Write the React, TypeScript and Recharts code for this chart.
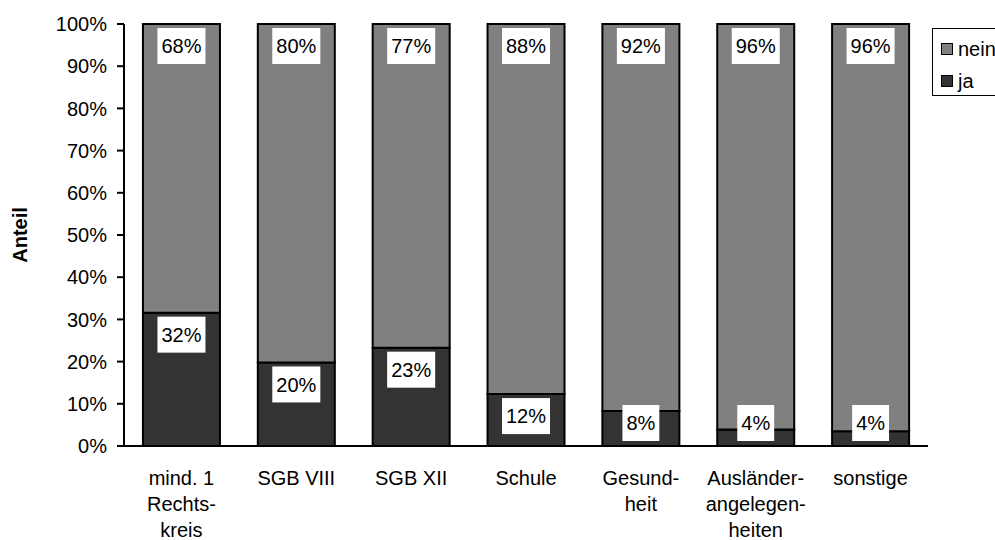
import React from 'react';
import { BarChart, Bar, XAxis, YAxis, Legend, LabelList } from 'recharts';

// categories and shares (in %)
const categories = [
  'mind. 1\nRechts-\nkreis',
  'SGB VIII',
  'SGB XII',
  'Schule',
  'Gesund-\nheit',
  'Ausländer-\nangelegen-\nheiten',
  'sonstige',
];
const jaValues = [31.6, 19.8, 23.3, 12.3, 8.3, 3.9, 3.5];
const neinValues = [68.4, 80.2, 76.7, 87.7, 91.7, 96.1, 96.5];
const jaLabels = ['32%', '20%', '23%', '12%', '8%', '4%', '4%'];
const neinLabels = ['68%', '80%', '77%', '88%', '92%', '96%', '96%'];
const yTicks = [0, 10, 20, 30, 40, 50, 60, 70, 80, 90, 100];

const data = categories.map((name, i) => ({ name, ja: jaValues[i], nein: neinValues[i] }));

const FONT = 'Arial, "Liberation Sans", sans-serif';
const FS = 20;

// rough Arial widths: digits 0.556em, % 0.889em
const textWidth = (s: string) =>
  s.split('').reduce((w, c) => w + (c === '%' ? 0.889 : 0.556), 0) * FS;

// white label box near the top of a segment, kept inside the bar for small ones
const makeLabel = (labels: string[], keepInside: boolean) => (props: any) => {
  const vb = props.viewBox || props;
  const { x, y, width, height } = vb;
  const text = labels[props.index];
  if (text == null) return null;
  const w = textWidth(text) + 8;
  const h = 36;
  let top = y + 4;
  if (keepInside) top = Math.min(top, y + height - h - 5);
  const cx = x + width / 2;
  return (
    <g>
      <rect x={cx - w / 2} y={top} width={w} height={h} fill="#fff" />
      <text x={cx} y={top + h / 2} dy="0.36em" textAnchor="middle" fontSize={FS} fontFamily={FONT} fill="#000">
        {text}
      </text>
    </g>
  );
};

const CategoryTick = (props: any) => {
  const { x, y, payload } = props;
  const lines = String(payload.value).split('\n');
  return (
    <text x={x} y={y + 39} textAnchor="middle" fontSize={FS} fontFamily={FONT} fill="#000">
      {lines.map((l, i) => (
        <tspan key={i} x={x} dy={i === 0 ? 0 : 26}>
          {l}
        </tspan>
      ))}
    </text>
  );
};

const renderLegend = (props: any) => {
  const items = [...(props.payload || [])].reverse();
  return (
    <div
      style={{
        border: '1px solid #000',
        background: '#fff',
        height: 68,
        boxSizing: 'border-box',
        padding: '4px 0 0 8px',
        fontFamily: FONT,
        fontSize: FS,
        color: '#000',
      }}
    >
      {items.map((it: any) => (
        <div key={it.value} style={{ height: 32, display: 'flex', alignItems: 'center' }}>
          <span
            style={{
              display: 'inline-block',
              width: 10,
              height: 10,
              background: it.color,
              border: '1.5px solid #000',
              marginRight: 5,
            }}
          />
          <span>{it.value}</span>
        </div>
      ))}
    </div>
  );
};

export default function App() {
  return (
    <div style={{ position: 'absolute', left: 0, top: 0, width: 995, height: 540, overflow: 'hidden', background: '#fff' }}>
      <BarChart
        width={995}
        height={540}
        data={data}
        margin={{ top: 24, right: 67, left: 0, bottom: 0 }}
        barCategoryGap="16.5%"
      >
        <XAxis
          dataKey="name"
          height={94}
          axisLine={{ stroke: '#000', strokeWidth: 2 }}
          tickLine={false}
          tickSize={0}
          tickMargin={0}
          interval={0}
          tick={<CategoryTick />}
        />
        <YAxis
          width={124}
          domain={[0, 100]}
          ticks={yTicks}
          tickFormatter={(v) => v + '%'}
          axisLine={{ stroke: '#000', strokeWidth: 2 }}
          tickLine={{ stroke: '#000', strokeWidth: 2 }}
          tickSize={7}
          tickMargin={10}
          tick={{ fontSize: FS, fontFamily: FONT, fill: '#000' }}
          label={{
            content: (p: any) => {
              const vb = p.viewBox || {};
              const cy = (vb.y || 24) + (vb.height || 422) / 2;
              return (
                <text
                  x={20}
                  y={cy}
                  dy="0.36em"
                  transform={`rotate(-90, 20, ${cy})`}
                  textAnchor="middle"
                  fontSize={FS}
                  fontWeight="bold"
                  fontFamily={FONT}
                  fill="#000"
                >
                  Anteil
                </text>
              );
            },
          }}
        />
        <Legend
          layout="vertical"
          align="center"
          verticalAlign="middle"
          wrapperStyle={{ left: 932, top: 28, width: 90, height: 68 }}
          content={renderLegend}
        />
        <Bar dataKey="ja" stackId="a" fill="#333333" stroke="#000" strokeWidth={2} isAnimationActive={false}>
          <LabelList dataKey="ja" content={makeLabel(jaLabels, true)} />
        </Bar>
        <Bar dataKey="nein" stackId="a" fill="#808080" stroke="#000" strokeWidth={2} isAnimationActive={false}>
          <LabelList dataKey="nein" content={makeLabel(neinLabels, false)} />
        </Bar>
      </BarChart>
    </div>
  );
}
